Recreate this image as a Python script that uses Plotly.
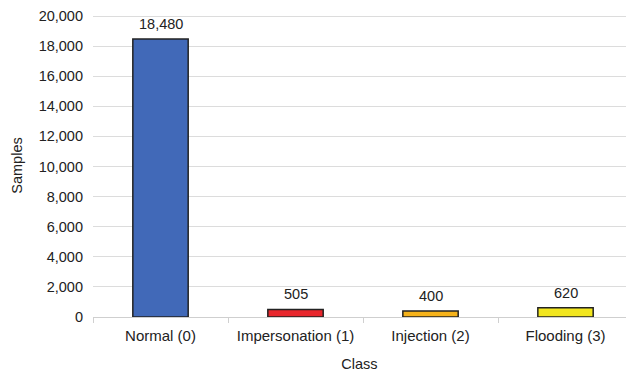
import plotly.graph_objects as go

categories = ["Normal (0)", "Impersonation (1)", "Injection (2)", "Flooding (3)"]
samples = [18480, 505, 400, 620]
bar_colors = ["#4169B8", "#E8262C", "#F5B21A", "#F2E61E"]
y_ticks = list(range(0, 20001, 2000))

fig = go.Figure(go.Bar(
    x=categories, y=samples,
    marker=dict(color=bar_colors, line=dict(color="#222222", width=1.5)),
    width=0.41,
    cliponaxis=False,
    hoverinfo="skip",
))

for c, v in zip(categories, samples):
    fig.add_annotation(
        x=c, y=v, text=f"{v:,}", showarrow=False,
        yanchor="bottom", yshift=5,
        font=dict(size=14.5, color="#222222"),
    )

fig.update_layout(
    width=626, height=372,
    margin=dict(l=93, r=0, t=14, b=55),
    paper_bgcolor="white", plot_bgcolor="white",
    font=dict(family="Liberation Sans, Arial, sans-serif", size=14.5, color="#222222"),
    showlegend=False,
    xaxis=dict(
        range=[-0.5, 3.448], tickson="boundaries", ticks="outside", ticklen=5,
        tickcolor="#D0D0D0", showgrid=False, showline=False, automargin=False,
        tickfont=dict(size=15), ticklabelstandoff=8,
        title=dict(text="Class", standoff=19, font=dict(size=14.5)),
    ),
    yaxis=dict(
        range=[0, 20133], tickvals=y_ticks, tickformat=",",
        showgrid=True, gridcolor="#DCDCDC", gridwidth=1,
        zeroline=True, zerolinecolor="#CFCFCF", zerolinewidth=1,
        ticks="", ticklabelstandoff=9, automargin=False,
        ticklabeloverflow="allow",
        tickfont=dict(size=14.5),
        title=dict(text="Samples", standoff=12, font=dict(size=14.5)),
    ),
)

fig.write_html(
    "out.html",
    config={"displayModeBar": False},
    post_script="document.body.style.margin='0';document.body.style.overflow='hidden';",
)
